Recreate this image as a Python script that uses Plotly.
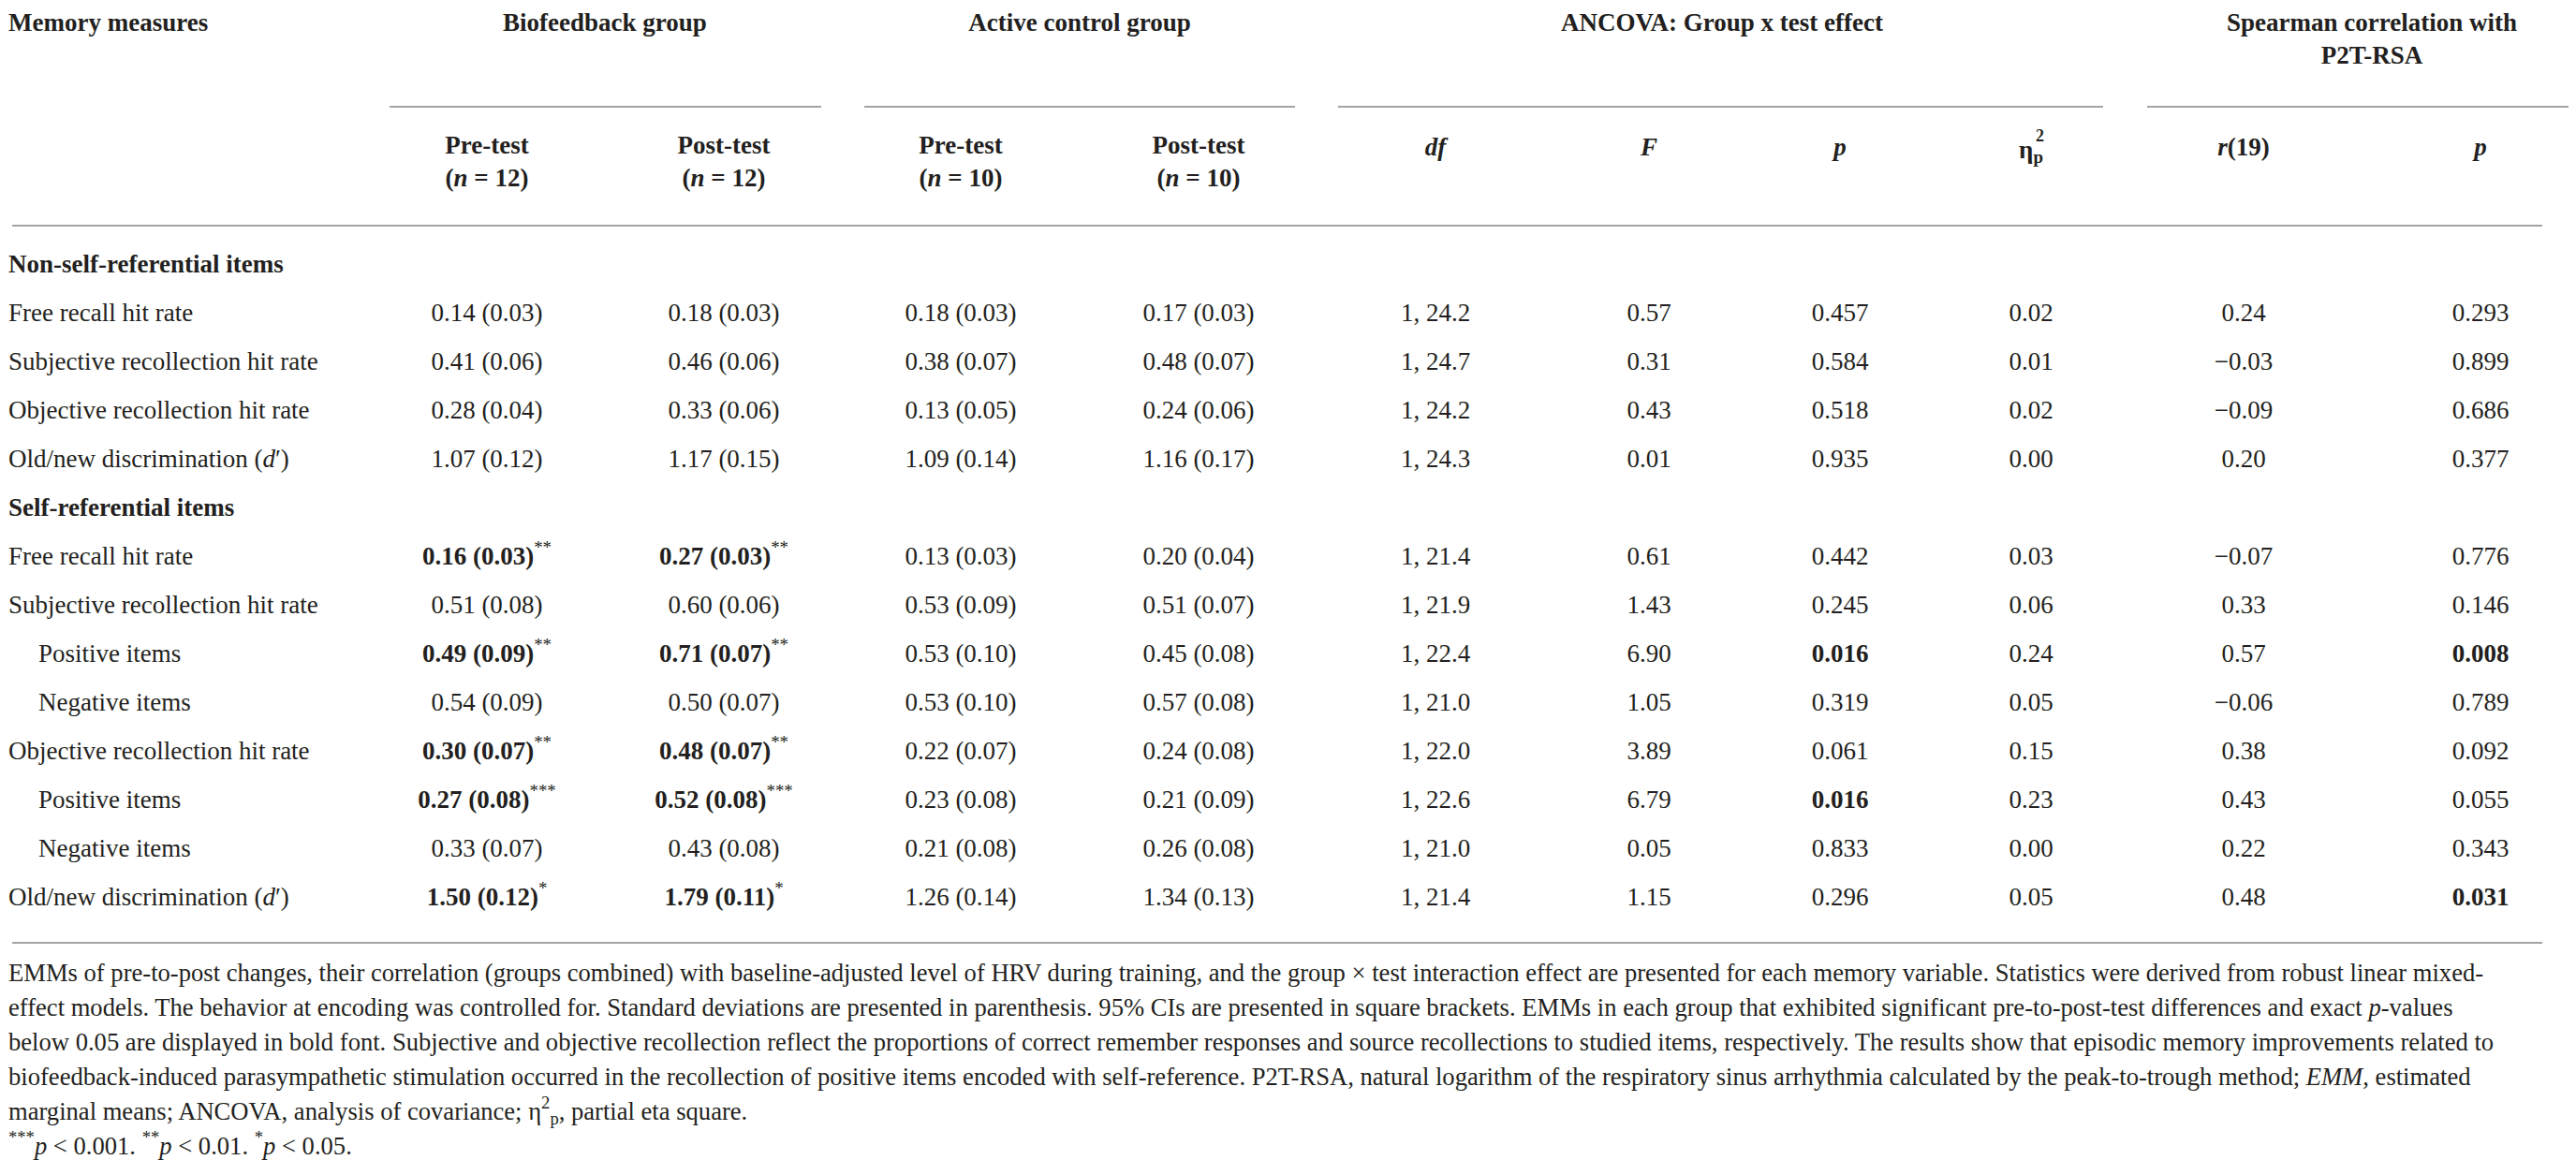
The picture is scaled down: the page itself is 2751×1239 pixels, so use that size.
import plotly.graph_objects as go

# --- table content ---
row_labels = [
    "Non-self-referential items",
    "Free recall hit rate",
    "Subjective recollection hit rate",
    "Objective recollection hit rate",
    "Old/new discrimination (<i>d</i>′)",
    "Self-referential items",
    "Free recall hit rate",
    "Subjective recollection hit rate",
    "Positive items",
    "Negative items",
    "Objective recollection hit rate",
    "Positive items",
    "Negative items",
    "Old/new discrimination (<i>d</i>′)",
]
section_rows = [0, 5]
indent_rows = [8, 9, 11, 12]

bio_pre_m = [0.14, 0.41, 0.28, 1.07, 0.16, 0.51, 0.49, 0.54, 0.30, 0.27, 0.33, 1.50]
bio_pre_sd = [0.03, 0.06, 0.04, 0.12, 0.03, 0.08, 0.09, 0.09, 0.07, 0.08, 0.07, 0.12]
bio_post_m = [0.18, 0.46, 0.33, 1.17, 0.27, 0.60, 0.71, 0.50, 0.48, 0.52, 0.43, 1.79]
bio_post_sd = [0.03, 0.06, 0.06, 0.15, 0.03, 0.06, 0.07, 0.07, 0.07, 0.08, 0.08, 0.11]
bio_stars = ["", "", "", "", "**", "", "**", "", "**", "***", "", "*"]

ctl_pre_m = [0.18, 0.38, 0.13, 1.09, 0.13, 0.53, 0.53, 0.53, 0.22, 0.23, 0.21, 1.26]
ctl_pre_sd = [0.03, 0.07, 0.05, 0.14, 0.03, 0.09, 0.10, 0.10, 0.07, 0.08, 0.08, 0.14]
ctl_post_m = [0.17, 0.48, 0.24, 1.16, 0.20, 0.51, 0.45, 0.57, 0.24, 0.21, 0.26, 1.34]
ctl_post_sd = [0.03, 0.07, 0.06, 0.17, 0.04, 0.07, 0.08, 0.08, 0.08, 0.09, 0.08, 0.13]

df_den = [24.2, 24.7, 24.2, 24.3, 21.4, 21.9, 22.4, 21.0, 22.0, 22.6, 21.0, 21.4]
f_val = [0.57, 0.31, 0.43, 0.01, 0.61, 1.43, 6.90, 1.05, 3.89, 6.79, 0.05, 1.15]
p_anc = [0.457, 0.584, 0.518, 0.935, 0.442, 0.245, 0.016, 0.319, 0.061, 0.016, 0.833, 0.296]
eta_p2 = [0.02, 0.01, 0.02, 0.00, 0.03, 0.06, 0.24, 0.05, 0.15, 0.23, 0.00, 0.05]
r_sp = [0.24, -0.03, -0.09, 0.20, -0.07, 0.33, 0.57, -0.06, 0.38, 0.43, 0.22, 0.48]
p_sp = [0.293, 0.899, 0.686, 0.377, 0.776, 0.146, 0.008, 0.789, 0.092, 0.055, 0.343, 0.031]

group_titles = ["Biofeedback group", "Active control group",
                "ANCOVA: Group x test effect", "Spearman correlation with<br>P2T-RSA"]
sub_titles = ["Pre-test<br>(<i>n</i> = 12)", "Post-test<br>(<i>n</i> = 12)",
              "Pre-test<br>(<i>n</i> = 10)", "Post-test<br>(<i>n</i> = 10)",
              "<i>df</i>", "<i>F</i>", "<i>p</i>", "η<sub>p</sub>", "<i>r</i>(19)", "<i>p</i>"]

caption_lines = [
    "EMMs of pre-to-post changes, their correlation (groups combined) with baseline-adjusted level of HRV during training, and the group × test interaction effect are presented for each memory variable. Statistics were derived from robust linear mixed-",
    "effect models. The behavior at encoding was controlled for. Standard deviations are presented in parenthesis. 95% CIs are presented in square brackets. EMMs in each group that exhibited significant pre-to-post-test differences and exact <i>p</i>-values",
    "below 0.05 are displayed in bold font. Subjective and objective recollection reflect the proportions of correct remember responses and source recollections to studied items, respectively. The results show that episodic memory improvements related to",
    "biofeedback-induced parasympathetic stimulation occurred in the recollection of positive items encoded with self-reference. P2T-RSA, natural logarithm of the respiratory sinus arrhythmia calculated by the peak-to-trough method; <i>EMM</i>, estimated",
    "marginal means; ANCOVA, analysis of covariance; η<sup>2</sup><sub>p</sub>, partial eta square.",
    "<sup>***</sup><i>p</i> < 0.001. <sup>**</sup><i>p</i> < 0.01. <sup>*</sup><i>p</i> < 0.05.",
]

# --- layout geometry (pixels) ---
W, H = 2751, 1239
FONT = "Liberation Serif, Times New Roman, serif"
INK = "#231f20"
RULE = "#a3a3a3"
SIZE = 27

col_x = [512, 765, 1018, 1272, 1525, 1753, 1957, 2161, 2388, 2641]
group_x = [638, 1145, 1831, 2525]
group_spans = [(408, 869), (915, 1375), (1421, 2238), (2285, 2744)]
row_y0, row_step = 276, 52
cap_y0, cap_step = 1033, 37

data_rows = [i for i in range(len(row_labels)) if i not in section_rows]
row_y = [row_y0 + row_step * i for i in range(len(row_labels))]
data_y = [row_y[i] for i in data_rows]


def fmt(v, nd=2):
    s = f"{abs(v):.{nd}f}"
    return ("−" + s) if v < 0 else s


def cell(m, sd, star=""):
    txt = f"{fmt(m)} ({fmt(sd)})"
    if star:
        return f"<b>{txt}</b><sup>{star}</sup>"
    return txt


def bold_if(v, nd=3):
    return f"<b>{fmt(v, nd)}</b>" if v < 0.05 else fmt(v, nd)


columns = [
    [cell(m, s, st) for m, s, st in zip(bio_pre_m, bio_pre_sd, bio_stars)],
    [cell(m, s, st) for m, s, st in zip(bio_post_m, bio_post_sd, bio_stars)],
    [cell(m, s) for m, s in zip(ctl_pre_m, ctl_pre_sd)],
    [cell(m, s) for m, s in zip(ctl_post_m, ctl_post_sd)],
    [f"1, {d:.1f}" for d in df_den],
    [fmt(v) for v in f_val],
    [bold_if(v) for v in p_anc],
    [fmt(v) for v in eta_p2],
    [fmt(v) for v in r_sp],
    [bold_if(v) for v in p_sp],
]

fig = go.Figure()

# row labels
label_txt = [f"<b>{t}</b>" if i in section_rows else t for i, t in enumerate(row_labels)]
label_x = [33 if i in indent_rows else 1 for i in range(len(row_labels))]
fig.add_trace(go.Scatter(
    x=label_x, y=row_y, text=label_txt, mode="text", textposition="middle right",
    textfont=dict(family=FONT, size=SIZE, color=INK), hoverinfo="skip",
))

# data cells
for cx, vals in zip(col_x, columns):
    fig.add_trace(go.Scatter(
        x=[cx] * len(vals), y=data_y, text=vals, mode="text", textposition="middle center",
        textfont=dict(family=FONT, size=SIZE, color=INK), hoverinfo="skip",
    ))

# headers
fig.add_trace(go.Scatter(
    x=[1], y=[18], text=["<b>Memory measures</b>"], mode="text", textposition="middle right",
    textfont=dict(family=FONT, size=SIZE, color=INK), hoverinfo="skip",
))
fig.add_trace(go.Scatter(
    x=group_x, y=[18, 18, 18, 36], text=[f"<b>{t}</b>" for t in group_titles],
    mode="text", textposition="middle center",
    textfont=dict(family=FONT, size=SIZE, color=INK), hoverinfo="skip",
))
sub_y = [167, 167, 167, 167, 151, 151, 151, 154, 151, 151]
fig.add_trace(go.Scatter(
    x=col_x, y=sub_y, text=[f"<b>{t}</b>" for t in sub_titles],
    mode="text", textposition="middle center",
    textfont=dict(family=FONT, size=SIZE, color=INK), hoverinfo="skip",
))
fig.add_annotation(x=col_x[7] + 9, y=137, text="<b>2</b>", showarrow=False,
                   font=dict(family=FONT, size=18, color=INK))

# caption
fig.add_trace(go.Scatter(
    x=[1] * len(caption_lines), y=[cap_y0 + cap_step * i for i in range(len(caption_lines))],
    text=caption_lines, mode="text", textposition="middle right",
    textfont=dict(family=FONT, size=26.6, color=INK), hoverinfo="skip",
))

# rules
for x0, x1 in group_spans:
    fig.add_shape(type="line", x0=x0, x1=x1, y0=106, y1=106, line=dict(color=RULE, width=2))
for yy in [233, 999]:
    fig.add_shape(type="line", x0=5, x1=2707, y0=yy, y1=yy, line=dict(color=RULE, width=2))

fig.update_layout(
    width=W, height=H, margin=dict(l=0, r=0, t=0, b=0),
    paper_bgcolor="white", plot_bgcolor="white", showlegend=False,
    xaxis=dict(range=[0, W], visible=False, fixedrange=True),
    yaxis=dict(range=[H, 0], visible=False, fixedrange=True),
)

fig.write_html("out.html")
